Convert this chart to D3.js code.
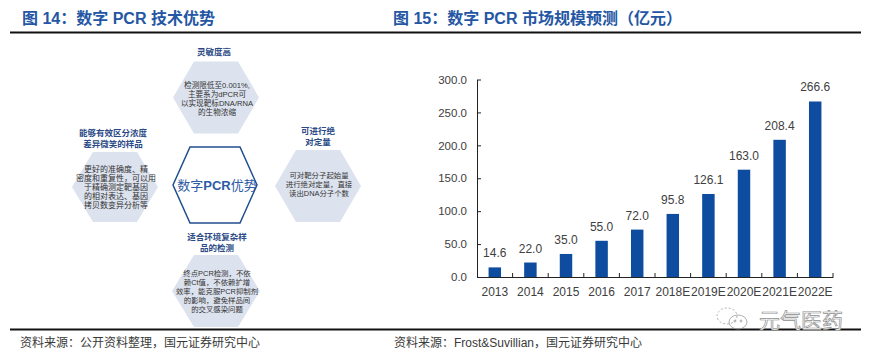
<!DOCTYPE html>
<html><head><meta charset="utf-8">
<script src="https://cdn.jsdelivr.net/npm/d3@7"></script>
<style>
html,body{margin:0;padding:0;background:#fff;}
svg{display:block;}
</style></head>
<body>
<script>
// ---- data ----
const years = ["2013","2014","2015","2016","2017","2018E","2019E","2020E","2021E","2022E"];
const values = [14.6,22.0,35.0,55.0,72.0,95.8,126.1,163.0,208.4,266.6];
const yTicks = [0,50,100,150,200,250,300];

const leftTitle = "图 14：数字 PCR 技术优势";
const rightTitle = "图 15：数字 PCR 市场规模预测（亿元）";
const leftSource = "资料来源：公开资料整理，国元证券研究中心";
const rightSource = "资料来源：Frost&Suvillian，国元证券研究中心";
const centerParts = [["数字", false], ["PCR", true], ["优势", false]];

const hexTitles = [
  ["灵敏度高"],
  ["能够有效区分浓度","差异微笑的样品"],
  ["可进行绝","对定量"],
  ["适合环境复杂样","品的检测"]
];
const hexTexts = [
  ["检测限低至0.001%,","主要系为dPCR可","以实现靶标DNA/RNA","的生物浓缩"],
  ["更好的准确度、精","密度和重复性，可以用","于精确测定靶基因","的相对表达、基因","拷贝数变异分析等"],
  ["可对靶分子起始量","进行绝对定量，直接","读出DNA分子个数"],
  ["终点PCR检测，不依","赖Ct值，不依赖扩增","效率，能克服PCR抑制剂","的影响，避免样品间","的交叉感染问题"]
];

const W = 869, H = 357;
const svg = d3.select("body").append("svg").attr("width", W).attr("height", H);
const FONT = "'Liberation Sans', Arial, 'Noto Sans CJK SC', sans-serif";

// ---- titles & rules ----
svg.append("text").attr("x", 22).attr("y", 24).text(leftTitle)
  .attr("font-family", FONT).attr("font-weight", "bold").attr("font-size", 16).attr("fill", "#2456a4");
svg.append("text").attr("x", 393).attr("y", 24).text(rightTitle)
  .attr("font-family", FONT).attr("font-weight", "bold").attr("font-size", 16).attr("fill", "#2456a4");
svg.append("line").attr("x1", 10).attr("x2", 861).attr("y1", 32.5).attr("y2", 32.5)
  .attr("stroke", "#111").attr("stroke-width", 2);
svg.append("line").attr("x1", 10).attr("x2", 861).attr("y1", 329.5).attr("y2", 329.5)
  .attr("stroke", "#111").attr("stroke-width", 2);
svg.append("text").attr("x", 20).attr("y", 347).text(leftSource)
  .attr("font-family", FONT).attr("font-size", 12).attr("fill", "#3a3a3a");
svg.append("text").attr("x", 394).attr("y", 347).text(rightSource)
  .attr("font-family", FONT).attr("font-size", 12).attr("fill", "#3a3a3a");

// ---- hexagon diagram ----
const hexLine = d3.line().curve(d3.curveLinearClosed);
function hexPts(cx, cy, w, h, t) {
  return [[cx - w, cy], [cx - t, cy - h], [cx + t, cy - h], [cx + w, cy], [cx + t, cy + h], [cx - t, cy + h]];
}
const hexLayout = [
  {cx: 216, cy: 97.5, w: 43, h: 36, t: 22, tx: 214, ty: 55, by: 88, fs: 7.6},
  {cx: 115, cy: 187, w: 43, h: 35, t: 22, tx: 113, ty: 136, by: 172, fs: 8},
  {cx: 318, cy: 186, w: 43, h: 36, t: 22, tx: 318, ty: 134, by: 178, fs: 7.4},
  {cx: 216, cy: 291, w: 44, h: 36, t: 22, tx: 217, ty: 240, by: 276, fs: 7.4}
];
const gHex = svg.append("g");
hexLayout.forEach((L, i) => {
  gHex.append("path").attr("d", hexLine(hexPts(L.cx, L.cy, L.w, L.h, L.t))).attr("fill", "#dce2ee");
  hexTitles[i].forEach((s, j) => {
    gHex.append("text").attr("x", L.tx).attr("y", L.ty + j * 11).text(s)
      .attr("text-anchor", "middle").attr("font-family", FONT).attr("font-weight", "bold")
      .attr("font-size", 8.5).attr("fill", "#2a4a86");
  });
  hexTexts[i].forEach((s, j) => {
    gHex.append("text").attr("x", L.cx + 1).attr("y", L.by + j * 9).text(s)
      .attr("text-anchor", "middle").attr("font-family", FONT)
      .attr("font-size", L.fs).attr("fill", "#333");
  });
});
// center hexagon
gHex.append("path").attr("d", hexLine(hexPts(215, 185, 42, 38, 25)))
  .attr("fill", "#fff").attr("stroke", "#1f4f8f").attr("stroke-width", 1.5);
const ct = gHex.append("text").attr("x", 217).attr("y", 190)
  .attr("text-anchor", "middle").attr("font-family", FONT).attr("font-size", 13).attr("fill", "#2d5ca6");
centerParts.forEach(p => ct.append("tspan").text(p[0]).attr("font-weight", p[1] ? "bold" : "normal"));

// ---- bar chart ----
const x = d3.scaleBand().domain(years).range([477, 833]).paddingInner(0.65).paddingOuter(0.325);
const y = d3.scaleLinear().domain([0, 300]).range([277, 79.5]);
const g = svg.append("g");

g.selectAll("rect.bar").data(values).join("rect").attr("class", "bar")
  .attr("x", (d, i) => x(years[i])).attr("width", x.bandwidth())
  .attr("y", d => y(d)).attr("height", d => y(0) - y(d)).attr("fill", "#0d4c9f");

g.selectAll("text.val").data(values).join("text").attr("class", "val")
  .attr("x", (d, i) => x(years[i]) + x.bandwidth() / 2).attr("y", d => y(d) - 10)
  .attr("text-anchor", "middle").attr("font-family", FONT).attr("font-size", 12)
  .attr("fill", "#404040").text(d => d3.format(".1f")(d));

// y axis
const yAxis = d3.axisLeft(y).tickValues(yTicks).tickFormat(d3.format(".1f")).tickSizeInner(-4).tickSizeOuter(0).tickPadding(10);
const ya = g.append("g").attr("transform", "translate(477,0)").call(yAxis);
ya.select(".domain").attr("stroke", "#222");
ya.selectAll(".tick line").attr("stroke", "#222");
ya.selectAll("text").attr("font-family", FONT).attr("font-size", 11.5).attr("fill", "#404040");

// x axis
const xAxis = d3.axisBottom(x).tickSize(0).tickPadding(10);
const xa = g.append("g").attr("transform", "translate(0,277)").call(xAxis);
xa.select(".domain").attr("stroke", "#222");
xa.selectAll("text").attr("font-family", FONT).attr("font-size", 12).attr("fill", "#404040");
const step = x.step();
xa.selectAll("line.sep").data(d3.range(1, years.length + 1)).join("line").attr("class", "sep")
  .attr("x1", i => 477 + i * step).attr("x2", i => 477 + i * step)
  .attr("y1", 0).attr("y2", -4).attr("stroke", "#222");

// ---- watermark ----
const wm = svg.append("g").attr("fill", "none").attr("stroke", "#9a9a9a").attr("stroke-width", 0.8);
wm.append("ellipse").attr("cx", 727).attr("cy", 316).attr("rx", 10).attr("ry", 8).attr("stroke-dasharray", "2,2");
wm.append("ellipse").attr("cx", 738).attr("cy", 322).attr("rx", 9).attr("ry", 7);
wm.append("circle").attr("cx", 735).attr("cy", 321).attr("r", 1);
wm.append("circle").attr("cx", 741).attr("cy", 321).attr("r", 1);
svg.append("text").attr("x", 759).attr("y", 328).text("元气医药")
  .attr("font-family", "'Noto Sans CJK SC', sans-serif").attr("font-size", 21)
  .attr("fill", "#fff").attr("stroke", "#8f8f8f").attr("stroke-width", 0.7);
</script>
</body></html>
